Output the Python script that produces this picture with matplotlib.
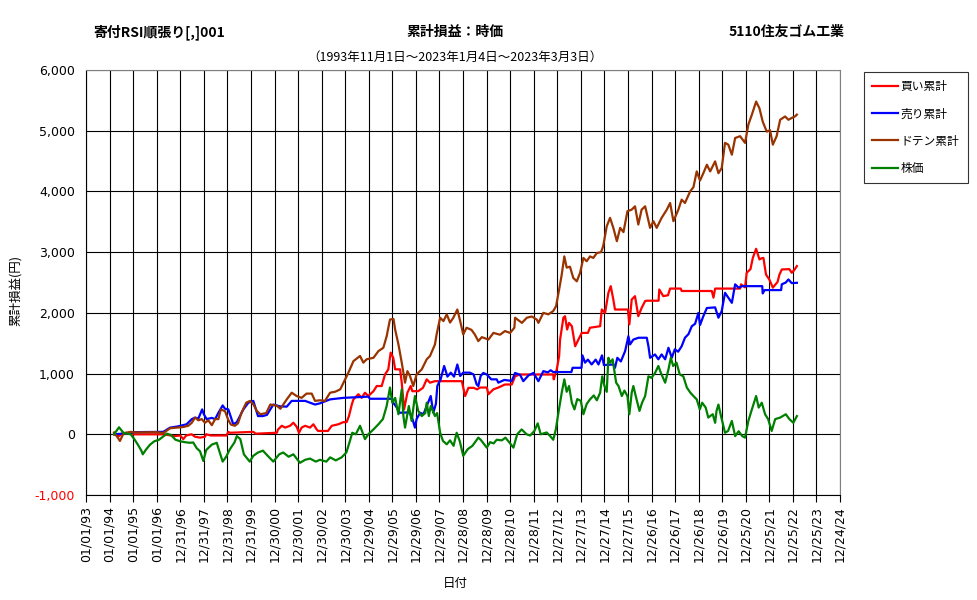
import numpy as np
import matplotlib
matplotlib.use("Agg")
import matplotlib.pyplot as plt

plt.rcParams['font.family'] = ['Noto Sans CJK JP', 'DejaVu Sans']

# x-axis tick labels (one every 365 days from 1993-01-01)
tick_labels = [
    "01/01/93", "01/01/94", "01/01/95", "01/01/96", "12/31/96", "12/31/97",
    "12/31/98", "12/31/99", "12/30/00", "12/30/01", "12/30/02", "12/30/03",
    "12/29/04", "12/29/05", "12/29/06", "12/29/07", "12/28/08", "12/28/09",
    "12/28/10", "12/28/11", "12/27/12", "12/27/13", "12/27/14", "12/27/15",
    "12/26/16", "12/26/17", "12/26/18", "12/26/19", "12/25/20", "12/25/21",
    "12/25/22", "12/25/23", "12/24/24",
]

# times are in "tick years" (365-day steps from 1993-01-01), values in yen
buy_t = [1994.19, 1994.40, 1994.55, 1995.00, 1996.30, 1996.60, 1996.75, 1997.00,
         1997.13, 1997.25, 1997.48, 1997.63, 1997.84, 1998.05, 1998.10, 1998.30,
         1998.96, 1999.04, 1999.10, 2000.10, 2000.20, 2001.10, 2001.15, 2001.31,
         2001.45, 2001.66, 2001.80, 2001.94, 2002.04, 2002.15, 2002.30, 2002.51,
         2002.65, 2002.79, 2002.85, 2003.27, 2003.43, 2003.71, 2003.92, 2004.06,
         2004.16, 2004.28, 2004.35, 2004.56, 2004.70, 2004.84, 2004.98, 2005.20,
         2005.34, 2005.55, 2005.69, 2005.83, 2005.93, 2006.04, 2006.12, 2006.33,
         2006.40, 2006.50, 2006.64, 2006.78, 2006.85, 2007.10, 2007.30, 2007.46,
         2007.60, 2007.81, 2008.95, 2009.09, 2009.23, 2009.45, 2009.60, 2009.72,
         2010.01, 2010.08, 2010.29, 2010.50, 2010.78, 2011.07, 2011.21, 2011.42,
         2012.83, 2012.85, 2012.98, 2013.08, 2013.12, 2013.26, 2013.33, 2013.42,
         2013.50, 2013.62, 2013.76, 2013.90, 2014.04, 2014.30, 2014.39, 2014.82,
         2014.89, 2015.03, 2015.17, 2015.27, 2015.38, 2015.45, 2016.00, 2016.06,
         2016.16, 2016.30, 2016.44, 2016.58, 2016.73, 2016.80, 2017.30, 2017.33,
         2017.50, 2017.70, 2017.79, 2018.24, 2018.28, 2019.56, 2019.63, 2019.70,
         2020.76, 2020.80, 2020.97, 2021.04, 2021.20, 2021.30, 2021.44, 2021.58,
         2021.68, 2021.75, 2021.86, 2022.00, 2022.15, 2022.35, 2022.43, 2022.53,
         2022.85, 2022.95, 2023.05, 2023.17]
buy_v = [0, -30, 20, 0, 0, -20, -30, -20,
         -80, -20, 0, -40, -55, -40, 0, -20,
         -20, 40, 25, 40, 10, 25, 80, 140,
         110, 140, 190, 125, 25, 110, 140, 110,
         165, 80, 55, 55, 140, 165, 200, 200,
         300, 490, 575, 660, 600, 685, 630, 710,
         795, 795, 985, 1070, 1345, 1260, 1070, 1070,
         850, 410, 685, 795, 710, 710, 765, 905,
         850, 875, 875, 630, 765, 765, 740, 770,
         770, 660, 740, 770, 820, 820, 955, 985,
         985, 905, 1070, 1290, 1560, 1920, 1945, 1725,
         1835, 1780, 1450, 1560, 1670, 1670, 1755, 1780,
         2055, 2000, 2330, 2440, 2220, 2055, 2055, 1810,
         2220, 2275, 1945, 2080, 2195, 2200, 2200, 2385,
         2275, 2290, 2400, 2400, 2360, 2360, 2250, 2400,
         2400, 2470, 2420, 2660, 2720, 2905, 3055, 2880,
         2900, 2905, 2630, 2550, 2415, 2510, 2630, 2715,
         2720, 2660, 2700, 2770]

sell_t = [1994.19, 1994.90, 1995.01, 1996.28, 1996.57, 1996.90, 1997.27, 1997.49,
          1997.63, 1997.77, 1997.93, 1998.00, 1998.12, 1998.34, 1998.48, 1998.62,
          1998.80, 1998.90, 1999.04, 1999.25, 1999.40, 1999.68, 1999.89, 2000.10,
          2000.30, 2000.51, 2000.68, 2000.95, 2001.23, 2001.52, 2001.73, 2002.30,
          2002.72, 2002.93, 2003.36, 2003.93, 2004.98, 2005.05, 2006.00, 2006.04,
          2006.19, 2006.30, 2006.71, 2006.82, 2006.96, 2007.03, 2007.18, 2007.32,
          2007.46, 2007.63, 2007.74, 2007.85, 2007.91, 2008.05, 2008.20, 2008.34,
          2008.48, 2008.62, 2008.76, 2008.88, 2009.01, 2009.29, 2009.45, 2009.58,
          2009.65, 2009.75, 2009.86, 2010.01, 2010.20, 2010.43, 2010.50, 2010.75,
          2011.07, 2011.21, 2011.42, 2011.56, 2011.78, 2011.99, 2012.20, 2012.41,
          2012.60, 2012.72, 2012.83, 2013.60, 2013.65, 2014.03, 2014.07, 2014.18,
          2014.30, 2014.46, 2014.63, 2014.75, 2014.90, 2014.98, 2015.38, 2015.45,
          2015.55, 2015.70, 2015.88, 2016.02, 2016.09, 2016.23, 2016.45, 2016.80,
          2016.87, 2016.94, 2017.15, 2017.29, 2017.43, 2017.58, 2017.72, 2017.86,
          2017.99, 2018.13, 2018.28, 2018.42, 2018.57, 2018.71, 2018.85, 2018.99,
          2019.06, 2019.20, 2019.35, 2019.70, 2019.84, 2019.98, 2020.12, 2020.26,
          2020.41, 2020.55, 2020.70, 2020.85, 2021.70, 2021.72, 2021.80, 2022.50,
          2022.53, 2022.70, 2022.81, 2022.95, 2023.17]
sell_v = [0, 20, 35, 40, 110, 130, 165, 250,
          275, 260, 410, 330, 250, 270, 250, 355,
          475, 420, 410, 165, 200, 410, 520, 550,
          300, 300, 320, 490, 460, 455, 550, 550,
          490, 510, 575, 600, 620, 585, 585, 520,
          440, 355, 360, 300, 110, 250, 355, 330,
          465, 630, 355, 500, 795, 905, 1125, 950,
          1015, 950, 1150, 960, 1015, 1015, 985, 820,
          795, 960, 1010, 985, 905, 905, 850, 895,
          880, 1010, 980, 875, 970, 1010, 875, 1040,
          1020, 1055, 1025, 1025, 1095, 1095, 1300, 1180,
          1230, 1150, 1230, 1150, 1300, 1140, 1150, 1095,
          1260, 1200, 1370, 1615, 1480, 1560, 1590, 1590,
          1450, 1260, 1315, 1235, 1315, 1235, 1425, 1260,
          1400, 1360, 1450, 1590, 1650, 1780, 1820, 2000,
          1800, 1945, 2080, 2090, 1920, 2030, 2330, 2250,
          2165, 2470, 2415, 2440, 2440, 2320, 2375, 2375,
          2470, 2500, 2550, 2490, 2495]

doten_t = [1994.19, 1994.35, 1994.44, 1994.60, 1994.90, 1995.10, 1996.00, 1996.28,
           1996.57, 1996.85, 1997.13, 1997.34, 1997.49, 1997.63, 1997.77, 1997.91,
           1998.05, 1998.19, 1998.34, 1998.48, 1998.62, 1998.72, 1998.90, 1999.04,
           1999.15, 1999.32, 1999.45, 1999.60, 1999.80, 1999.96, 2000.11, 2000.25,
           2000.40, 2000.65, 2000.82, 2001.10, 2001.25, 2001.52, 2001.73, 2001.94,
           2002.15, 2002.36, 2002.58, 2002.72, 2002.93, 2003.14, 2003.36, 2003.57,
           2003.79, 2003.93, 2004.13, 2004.35, 2004.63, 2004.77, 2004.91, 2005.20,
           2005.41, 2005.62, 2005.76, 2005.90, 2006.05, 2006.12, 2006.26, 2006.40,
           2006.54, 2006.64, 2006.75, 2006.89, 2007.03, 2007.25, 2007.46, 2007.60,
           2007.81, 2007.88, 2008.03, 2008.17, 2008.31, 2008.45, 2008.59, 2008.76,
           2008.88, 2009.01, 2009.15, 2009.36, 2009.50, 2009.65, 2009.80, 2010.08,
           2010.29, 2010.57, 2010.78, 2011.00, 2011.18, 2011.21, 2011.50, 2011.71,
           2011.92, 2012.13, 2012.20, 2012.41, 2012.62, 2012.83, 2012.95, 2013.08,
           2013.19, 2013.30, 2013.40, 2013.54, 2013.68, 2013.83, 2013.97, 2014.11,
           2014.25, 2014.39, 2014.53, 2014.68, 2014.86, 2014.95, 2015.10, 2015.24,
           2015.38, 2015.53, 2015.67, 2015.81, 2015.98, 2016.16, 2016.30, 2016.44,
           2016.58, 2016.73, 2016.94, 2017.08, 2017.22, 2017.43, 2017.65, 2017.79,
           2017.93, 2018.14, 2018.28, 2018.42, 2018.64, 2018.78, 2018.92, 2019.06,
           2019.20, 2019.35, 2019.49, 2019.70, 2019.84, 2019.98, 2020.12, 2020.26,
           2020.41, 2020.55, 2020.76, 2020.97, 2021.11, 2021.26, 2021.44, 2021.58,
           2021.72, 2021.89, 2022.03, 2022.15, 2022.31, 2022.46, 2022.67, 2022.81,
           2022.95, 2023.09, 2023.17]
doten_v = [30, -55, -110, 20, 40, 30, 35, 20,
           100, 110, 120, 140, 190, 275, 230, 250,
           190, 230, 150, 250, 250, 410, 380, 235,
           160, 140, 180, 355, 520, 550, 490, 385,
           330, 350, 490, 470, 420, 575, 685, 630,
           600, 670, 670, 550, 560, 550, 685, 700,
           740, 850, 1010, 1205, 1290, 1180, 1235, 1260,
           1370, 1425, 1615, 1890, 1900, 1725, 1480, 1180,
           850, 1040, 960, 795, 985, 1070, 1235, 1290,
           1480, 1645, 1920, 1865, 1975, 1840, 1920, 2055,
           1865, 1645, 1755, 1720, 1645, 1535, 1600, 1560,
           1670, 1640, 1700, 1670, 1755, 1920, 1835, 1920,
           1940, 1890, 1835, 2000, 1975, 2030, 2110, 2385,
           2630, 2930, 2745, 2760, 2575, 2520, 2660, 2905,
           2850, 2930, 2905, 2985, 3000, 3100, 3425, 3565,
           3400, 3180, 3400, 3330, 3675, 3700, 3755, 3455,
           3700, 3755, 3400, 3510, 3400, 3565, 3700, 3810,
           3510, 3700, 3865, 3810, 4000, 4070, 4330, 4180,
           4300, 4440, 4330, 4495, 4300, 4385, 4800, 4770,
           4605, 4880, 4910, 4800, 5100, 5265, 5480, 5370,
           5150, 4985, 5010, 4770, 4910, 5180, 5235, 5180,
           5210, 5235, 5265]

price_t = [1994.19, 1994.40, 1994.60, 1994.90, 1995.05, 1995.20, 1995.35, 1995.41,
           1995.55, 1995.72, 1995.90, 1996.10, 1996.30, 1996.43, 1996.60, 1996.80,
           1997.00, 1997.20, 1997.40, 1997.55, 1997.70, 1997.84, 1997.98, 1998.10,
           1998.34, 1998.55, 1998.62, 1998.80, 1998.95, 1999.10, 1999.30, 1999.40,
           1999.55, 1999.70, 1999.95, 2000.10, 2000.30, 2000.51, 2000.70, 2000.95,
           2001.20, 2001.37, 2001.60, 2001.80, 2002.08, 2002.30, 2002.51, 2002.75,
           2002.93, 2003.20, 2003.36, 2003.60, 2003.85, 2004.05, 2004.20, 2004.30,
           2004.45, 2004.63, 2004.84, 2004.98, 2005.20, 2005.41, 2005.60, 2005.76,
           2005.90, 2006.00, 2006.12, 2006.26, 2006.40, 2006.47, 2006.54, 2006.70,
           2006.82, 2006.96, 2007.10, 2007.25, 2007.40, 2007.46, 2007.55, 2007.63,
           2007.81, 2007.90, 2008.03, 2008.15, 2008.31, 2008.45, 2008.60, 2008.73,
           2008.86, 2009.01, 2009.20, 2009.40, 2009.65, 2009.75, 2009.90, 2010.01,
           2010.15, 2010.30, 2010.43, 2010.65, 2010.80, 2011.00, 2011.14, 2011.30,
           2011.49, 2011.70, 2011.85, 2012.03, 2012.17, 2012.30, 2012.55, 2012.70,
           2012.83, 2012.94, 2013.05, 2013.19, 2013.30, 2013.40, 2013.50, 2013.62,
           2013.73, 2013.85, 2014.00, 2014.11, 2014.25, 2014.39, 2014.55, 2014.68,
           2014.82, 2014.91, 2015.00, 2015.10, 2015.17, 2015.25, 2015.35, 2015.50,
           2015.60, 2015.74, 2015.85, 2015.98, 2016.06, 2016.16, 2016.23, 2016.35,
           2016.49, 2016.60, 2016.73, 2016.87, 2017.00, 2017.15, 2017.29, 2017.40,
           2017.58, 2017.72, 2017.82, 2017.92, 2018.06, 2018.20, 2018.35, 2018.50,
           2018.65, 2018.78, 2018.92, 2019.05, 2019.15, 2019.30, 2019.41, 2019.49,
           2019.60, 2019.70, 2019.76, 2019.84, 2019.95, 2020.12, 2020.25, 2020.41,
           2020.55, 2020.70, 2020.85, 2020.97, 2021.11, 2021.26, 2021.44, 2021.55,
           2021.68, 2021.82, 2021.95, 2022.10, 2022.25, 2022.46, 2022.70, 2022.85,
           2023.02, 2023.17]
price_v = [0, 115, 20, 0, -80, -170, -270, -330,
           -250, -170, -115, -90, -30, 10, -10, -90,
           -115, -130, -140, -135, -230, -280, -440, -260,
           -170, -140, -230, -450, -370, -250, -135, -30,
           -80, -330, -450, -355, -300, -270, -350, -450,
           -330, -300, -370, -330, -470, -420, -400, -450,
           -420, -450, -380, -430, -380, -300, -110, 25,
           0, 140, -80, 0, 80, 165, 250, 465,
           770, 520, 600, 330, 740, 300, 110, 465,
           220, 630, 385, 300, 350, 520, 300, 465,
           300, 350, 25, -110, -165, -100, -190, 25,
           -110, -355, -245, -190, -55, -90, -165, -220,
           -130, -150, -90, -100, -55, -150, -220, 0,
           80, 0, -20, 55, 180, 0, 30, -30,
           -90, 80, 355, 685, 905, 700, 795, 520,
           410, 580, 550, 330, 500, 575, 640, 560,
           685, 955, 800, 700, 1260, 1180, 1235, 850,
           795, 630, 720, 630, 330, 685, 795, 600,
           385, 520, 630, 955, 930, 1010, 1125, 1010,
           850, 1070, 1260, 1125, 1180, 985, 955, 770,
           685, 630, 575, 410, 520, 440, 275, 300,
           330, 190, 385, 490, 300, 25, 55, 220,
           -30, 50, -30, -55, 220, 410, 630, 440,
           520, 330, 250, 55, 250, 275, 330, 250,
           190, 300]

series = [
    ("買い累計", buy_t, buy_v, "#ff0000"),
    ("売り累計", sell_t, sell_v, "#0000ff"),
    ("ドテン累計", doten_t, doten_v, "#993300"),
    ("株価", price_t, price_v, "#008000"),
]


def to_days(t):
    # one tick step on the chart is 365 days
    return (np.asarray(t) - 1993.0) * 365.0


fig = plt.figure(figsize=(9.77, 6.0), dpi=100)
ax = fig.add_axes([86 / 977, 105 / 600, 754 / 977, 425 / 600])

for name, t, v, c in series:
    ax.plot(to_days(t), v, color=c, lw=1.6, label=name)

ticks = np.arange(len(tick_labels)) * 365
ax.set_xlim(0, ticks[-1])
ax.set_xticks(ticks)
ax.set_xticklabels(tick_labels, rotation=90, fontsize=9, family=['DejaVu Sans'])
ax.set_ylim(-1000, 6000)
ax.set_yticks(np.arange(-1000, 6001, 1000))
ax.set_yticklabels([f"{v:,}" for v in range(-1000, 6001, 1000)], fontsize=9,
                   family=['DejaVu Sans'])
ax.get_yticklabels()[0].set_color("#ff0000")
ax.tick_params(axis='x', direction='out', length=5, width=0.8, color='black', pad=3)
ax.tick_params(axis='y', length=0, pad=8)
ax.grid(True, color='black', lw=0.8)
ax.set_axisbelow(True)
for s in ("top", "right"):
    ax.spines[s].set_color("#808080")
for s in ("left", "bottom"):
    ax.spines[s].set_color("black")

fig.text(159 / 977, 1 - 32 / 600, "寄付RSI順張り[,]001", ha='center', va='center',
         fontsize=10, fontweight='bold')
fig.text(455 / 977, 1 - 32 / 600, "累計損益：時価", ha='center', va='center',
         fontsize=10, fontweight='bold')
fig.text(787 / 977, 1 - 32 / 600, "5110住友ゴム工業", ha='center', va='center',
         fontsize=10, fontweight='bold')
fig.text(455 / 977, 1 - 57 / 600, "（1993年11月1日～2023年1月4日～2023年3月3日）",
         ha='center', va='center', fontsize=9)
fig.text(16 / 977, 1 - 290 / 600, "累計損益(円)", ha='center', va='center',
         rotation=90, fontsize=9)
fig.text(455 / 977, 1 - 583 / 600, "日付", ha='center', va='center', fontsize=9)

leg = fig.legend(loc='upper left', bbox_to_anchor=(864 / 977, 1 - 72 / 600),
                 borderaxespad=0, fontsize=8.5, frameon=True, fancybox=False,
                 handlelength=2.2, labelspacing=1.2, borderpad=0.7,
                 handletextpad=0.2)
leg.get_frame().set_edgecolor('black')
leg.get_frame().set_linewidth(0.8)

fig.savefig("out.png", dpi=100)
